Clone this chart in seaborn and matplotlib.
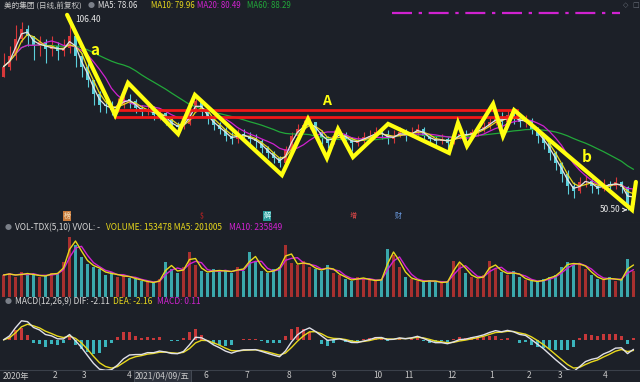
import matplotlib
matplotlib.use("Agg")
import matplotlib.pyplot as plt
import matplotlib.patches as mpatches
import numpy as np
import pandas as pd
import seaborn as sns

# one bar per 3 trading days
closes = [92, 95, 100, 103, 101, 98, 99, 97, 98, 96.5,
          97.5, 101, 95, 92, 88, 84, 81, 80.5, 79.5, 81,
          82.5, 82, 80, 79, 79.5, 78, 78.5, 76.5, 75, 74.5,
          75.5, 79, 82, 79, 77, 75, 74, 72, 71, 72.5,
          72, 71, 70.5, 68.5, 67, 65.5, 64, 68, 72, 74,
          75, 76, 73, 71.5, 70, 72, 72.5, 71, 70, 70.5,
          71.5, 72, 73, 72.5, 71, 72, 73, 72, 73, 74,
          72, 71, 70.5, 71, 70, 71.5, 72.5, 72, 73, 73.5,
          74.5, 76, 77, 76, 78, 77, 76, 76.5, 74, 72,
          70, 67, 64, 61, 57.5, 56, 58.5, 59, 57.5, 56.5,
          58, 57.5, 58.5, 57, 52, 56.5]
highs = [96, 98, 104, 105, 104, 101, 101, 100, 101, 99,
         100, 106.4, 101, 96, 93, 88, 85, 83, 82, 83,
         84.5, 84, 82.5, 81, 82, 80.5, 80, 79, 77, 76,
         78, 82, 83.5, 82, 79.5, 77, 76, 74.5, 73, 74,
         74, 73, 72.5, 71, 69, 67.5, 66, 69, 73, 75.5,
         76.5, 77.5, 76, 73.5, 72, 73.5, 74, 73, 71.5, 72,
         73, 73.5, 74.5, 74, 73.5, 73.5, 74.5, 74, 74.5, 75.5,
         74.5, 72.5, 72, 72.5, 71.5, 73, 74, 73.5, 74, 75,
         76, 77.5, 78.5, 79, 79.5, 79, 78, 78, 77, 74.5,
         72.5, 70.5, 67.5, 64.5, 62, 58.5, 60, 60.5, 59.5, 58.5,
         59.5, 59, 60, 59, 57.5, 57.5]
lows = [89, 91, 94, 99, 98, 94, 95, 93, 95, 94,
        95, 96, 92, 89, 86, 81, 79, 78.5, 78, 79,
        80, 80, 78.5, 77.5, 78, 76.5, 76.5, 75, 73.5, 73,
        74, 75, 79, 77.5, 75.5, 73.5, 72.5, 70.5, 69.5, 70,
        70.5, 69, 68.5, 67, 65.5, 64, 63, 64.5, 67.5, 71.5,
        73, 74, 72, 69.5, 68.5, 69.5, 71, 69.5, 67.5, 69,
        70, 70.5, 71.5, 71, 69.5, 70, 71.5, 70.5, 71.5, 72,
        70.5, 69.5, 69, 69.5, 68, 69.5, 71, 70.5, 71.5, 72,
        73, 74, 75, 74.5, 75.5, 75.5, 74.5, 74.5, 72.5, 70,
        68, 65, 62, 58.5, 55, 54, 55.5, 57, 55.5, 55,
        56, 55.5, 56.5, 55.5, 50.5, 52.5]
# volume, thousands of lots
volumes = [220, 240, 200, 250, 220, 230, 200, 220, 240, 230,
           350, 600, 520, 400, 330, 300, 280, 220, 250, 200,
           220, 190, 180, 160, 150, 140, 180, 350, 280, 240,
           300, 450, 320, 260, 240, 280, 250, 270, 240, 300,
           260, 450, 360, 260, 240, 280, 300, 520, 340, 320,
           360, 300, 280, 260, 320, 240, 220, 180, 160, 200,
           180, 170, 160, 180, 480, 420, 300, 200, 180, 160,
           150, 170, 150, 140, 160, 360, 340, 240, 200, 180,
           220, 360, 280, 250, 220, 260, 200, 170, 160, 150,
           180, 200, 220, 300, 350, 320, 340, 280, 220, 180,
           170, 200, 160, 180, 380, 260]

# hand-drawn wave annotation (bar index, price)
zig_x = [10.6, 18.6, 20.75, 29.1, 31.9, 46.4, 50.75, 53.9, 55.75, 58.25,
         64.1, 74.25, 75.75, 77.25, 81.6, 83.25, 85.1, 104.75, 105.4]
zig_y = [107.0, 78.0, 87.3, 72.5, 83.8, 60.6, 76.8, 65.5, 73.9, 65.8,
         75.4, 67.0, 75.7, 69.0, 81.2, 71.9, 79.4, 50.5, 58.6]
band_x = [18.6, 85.6]
band_y = [77.4, 79.4]

month_labels = ["2020年", "2", "3", "4", "2021/04/09/五", "6", "7", "8",
                "9", "10", "11", "12", "1", "2", "3", "4"]
month_pos = [-0.1, 8.25, 13.1, 20.6, 21.9, 33.25, 40.25, 47.25,
             54.75, 61.6, 66.75, 73.9, 80.9, 87.25, 92.4, 99.9]

BG = "#1c2028"
RED = "#d8383a"
CYAN = "#5cd0dc"
VRED = "#a8302f"
VTEAL = "#3aa8ac"
YEL = "#e8d81c"
MAG = "#d022d0"
GRN = "#22a83a"
W, H = 640, 382
FS = 6.0


def fx(x):
    return x / W


def fy(y):
    return 1 - y / H


sns.set_theme(style="dark", rc={"axes.facecolor": BG, "figure.facecolor": BG})
plt.rcParams["font.family"] = ["Noto Sans CJK SC", "DejaVu Sans"]

df = pd.DataFrame({"close": closes, "high": highs, "low": lows, "vol": volumes})
df["i"] = np.arange(len(df))
df["open"] = df["close"].shift(1).fillna(df["low"])
df["up"] = df["close"] >= df["open"]
# moving averages on 3-day bars (5/10/20/60 days)
df["ma5"] = df["close"].rolling(2, min_periods=1).mean()
df["ma10"] = df["close"].rolling(3, min_periods=1).mean()
df["ma20"] = df["close"].rolling(7, min_periods=1).mean()
df["ma60"] = df["close"].rolling(20, min_periods=1).mean()
df["vma5"] = df["vol"].rolling(2, min_periods=1).mean()
df["vma10"] = df["vol"].rolling(3, min_periods=1).mean()
fast = df["close"].ewm(span=4, adjust=False).mean()
slow = df["close"].ewm(span=9, adjust=False).mean()
df["dif"] = fast - slow
df["dea"] = df["dif"].ewm(span=3, adjust=False).mean()
df["hist"] = 2 * (df["dif"] - df["dea"])

xlim = (-3.5 / 6, (W - 3.5) / 6)

fig = plt.figure(figsize=(6.4, 3.82), dpi=100)
ax = fig.add_axes([0, fy(223), 1, 223 / H])
axv = fig.add_axes([0, fy(297), 1, 74 / H])
axm = fig.add_axes([0, fy(370), 1, 73 / H])

for a in (ax, axv, axm):
    a.set_xlim(*xlim)
    a.set_xticks([])
    a.set_yticks([])
    a.grid(False)
    for s in a.spines.values():
        s.set_visible(False)
    a.spines["bottom"].set_visible(True)
    a.spines["bottom"].set_color("#3a404a")
    a.spines["bottom"].set_linewidth(0.8)

# ---- price panel
ax.set_ylim(46.7, 111.3)
colors = np.where(df["up"], RED, CYAN)
ax.vlines(df["i"], df["low"], df["high"], colors=colors, lw=0.8, zorder=2)
body = (df["close"] - df["open"]).abs().clip(lower=0.2)
ax.bar(df["i"], body, bottom=df[["open", "close"]].min(axis=1), width=0.4,
       color=colors, lw=0, zorder=2)
for col, c in [("ma60", GRN), ("ma20", MAG), ("ma10", YEL), ("ma5", "#e4e4e4")]:
    sns.lineplot(data=df, x="i", y=col, ax=ax, color=c, lw=0.9,
                 estimator=None, legend=False, zorder=3)
ax.set_xlabel("")
ax.set_ylabel("")

ax.add_patch(mpatches.Rectangle((band_x[0], band_y[0]), band_x[1] - band_x[0],
                                band_y[1] - band_y[0], fill=False,
                                ec="#f01818", lw=2, zorder=4))
ax.plot(zig_x, zig_y, color="#ffff10", lw=3, zorder=5, solid_joinstyle="miter")
ax.text(15.25, 96.8, "a", color="#ffff10", fontsize=11, fontweight="bold",
        ha="center", va="center")
ax.text(53.9, 82.1, "A", color="#ffff10", fontsize=10, fontweight="bold",
        ha="center", va="center")
ax.text(97.25, 65.8, "b", color="#ffff10", fontsize=11, fontweight="bold",
        ha="center", va="center")
ax.annotate("106.40", xy=(10.6, 106.5), xytext=(12.0, 105.6), color="#e8e8e8",
            fontsize=FS, va="center",
            arrowprops=dict(arrowstyle="-", color="#e8e8e8", lw=0.8))
ax.annotate("50.50", xy=(104.4, 50.5), xytext=(99.3, 50.5), color="#e8e8e8",
            fontsize=FS, va="center",
            arrowprops=dict(arrowstyle="->", color="#e8e8e8", lw=0.8))

# event badges along the bottom of price panel
badges = [(67, "榜", "#c87a3a", "#f0e0c0"), (202, "$", None, "#e02020"),
          (267, "解", "#2a9a9a", "#e0ffff"), (353, "增", None, "#e04848"),
          (398, "财", None, "#6a9ae0")]
for bx, t, bg, fc in badges:
    kw = {}
    if bg:
        kw["bbox"] = dict(boxstyle="square,pad=0.1", fc=bg, ec="none")
    fig.text(fx(bx), fy(216), t, color=fc, fontsize=5.0, ha="center",
             va="center", **kw)

# header of price panel
fig.text(fx(4), fy(6), "美的集团 (日线,前复权)", color="#c8c8c8", fontsize=5.5, va="center")
fig.text(fx(91), fy(6), "●", color="#7a7f88", fontsize=5, va="center", ha="center")
for x0, t, c in [(98, "MA5: 78.06", "#e4e4e4"), (151, "MA10: 79.96", YEL),
                 (197, "MA20: 80.49", MAG), (247, "MA60: 88.29", GRN)]:
    fig.text(fx(x0), fy(6), t, color=c, fontsize=5.7, va="center")
fig.lines.append(plt.Line2D([fx(392), fx(620)], [fy(13), fy(13)],
                            transform=fig.transFigure, color=MAG, lw=1.6,
                            ls=(0, (9, 3, 1.5, 3)), zorder=6))
fig.text(fx(626), fy(5), "◇", color="#6a707a", fontsize=5, ha="center",
         va="center", family=["DejaVu Sans"])
fig.text(fx(636), fy(5), "□", color="#6a707a", fontsize=5, ha="center",
         va="center", family=["DejaVu Sans"])

# ---- volume panel
axv.set_ylim(0, 740)
vcol = np.where(df["up"], VRED, VTEAL)
axv.bar(df["i"], df["vol"], width=0.5, color=vcol, lw=0, zorder=2)
sns.lineplot(data=df, x="i", y="vma10", ax=axv, color=MAG, lw=1.0,
             estimator=None, legend=False, zorder=3)
sns.lineplot(data=df, x="i", y="vma5", ax=axv, color=YEL, lw=1.0,
             estimator=None, legend=False, zorder=3)
axv.set_xlabel("")
axv.set_ylabel("")
fig.text(fx(8), fy(228), "●", color="#7a7f88", fontsize=5, va="center", ha="center")
fig.text(fx(15), fy(228), "VOL-TDX(5,10) VVOL: -", color="#d8d8d8", fontsize=FS, va="center")
fig.text(fx(106), fy(228), "VOLUME: 153478 MA5: 201005", color=YEL, fontsize=FS, va="center")
fig.text(fx(229), fy(228), "MA10: 235849", color=MAG, fontsize=FS, va="center")

# ---- MACD panel
span = np.abs(df[["dif", "dea"]].values).max()
axm.set_ylim(-span * 0.95, span * 1.35)
hcol = np.where(df["hist"] >= 0, "#c8383a", "#3ab4bc")
axm.bar(df["i"], df["hist"], width=0.35, color=hcol, lw=0, zorder=2)
sns.lineplot(data=df, x="i", y="dea", ax=axm, color=YEL, lw=1.0,
             estimator=None, legend=False, zorder=3)
sns.lineplot(data=df, x="i", y="dif", ax=axm, color="#e0e0e8", lw=1.0,
             estimator=None, legend=False, zorder=3)
axm.set_xlabel("")
axm.set_ylabel("")
fig.text(fx(8), fy(302), "●", color="#7a7f88", fontsize=5, va="center", ha="center")
fig.text(fx(15), fy(302), "MACD(12,26,9) DIF: -2.11", color="#d8d8d8", fontsize=FS, va="center")
fig.text(fx(113), fy(302), "DEA: -2.16", color=YEL, fontsize=FS, va="center")
fig.text(fx(157), fy(302), "MACD: 0.11", color=MAG, fontsize=FS, va="center")

# ---- month labels
for lab, pos in zip(month_labels, month_pos):
    x_px = 3.5 + 6 * pos
    kw = {}
    if "/" in lab:
        kw["bbox"] = dict(boxstyle="square,pad=0.15", fc="#2c313b", ec="#4a505a", lw=0.6)
    fig.text(fx(x_px), fy(376), lab, color="#c8c8c8", fontsize=FS,
             va="center", ha="left", **kw)

fig.savefig("out.png", dpi=100, facecolor=BG)
